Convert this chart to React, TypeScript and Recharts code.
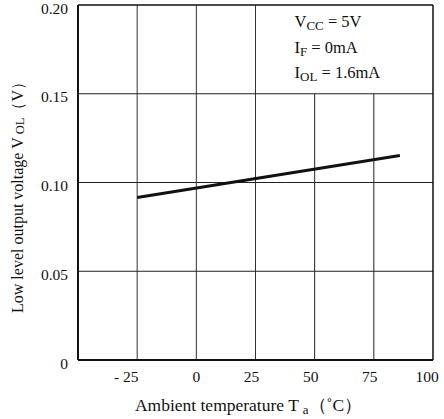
import React from "react"
import { LineChart, Line, XAxis, YAxis, ReferenceLine, ReferenceArea } from "recharts"

// readings from the plot
const temps = [-25, 86]
const vol = [0.0915, 0.1152]

const xTicks = [-25, 0, 25, 50, 75, 100]
const yTicks = [0, 0.05, 0.1, 0.15, 0.2]
const fullVGrid = [-25, 0, 25]
const partVGrid = [50, 75]
const hGrid = [0.05, 0.1, 0.15]

const conditions = [
  { main: "V", sub: "CC", rest: " = 5V" },
  { main: "I", sub: "F", rest: " = 0mA" },
  { main: "I", sub: "OL", rest: " = 1.6mA" },
]

const data = temps.map((t, i) => ({ t, v: vol[i] }))

const FONT = "'Liberation Serif', 'Times New Roman', serif"
const INK = "#111"

function XTick({ x, y, payload }: any) {
  const v = payload.value
  const dx = v < 0 ? -11 : v === 0 ? 0 : v === 100 ? -6 : -4
  return (
    <text x={x + dx} y={y} dy="0.71em" textAnchor="middle" fontSize={15.5} fill={INK} fontFamily={FONT}>
      {v < 0 ? `- ${Math.abs(v)}` : v}
    </text>
  )
}

function YTick({ x, y, payload }: any) {
  const v = payload.value
  return (
    <text x={x} y={y + 3} dy="0.355em" textAnchor="end" fontSize={15.5} fill={INK} fontFamily={FONT}>
      {v === 0 ? "0" : v.toFixed(2)}
    </text>
  )
}

function XTitle({ viewBox }: any) {
  const cx = viewBox.x + viewBox.width / 2 - 7
  return (
    <text x={cx} y={viewBox.y + 51} textAnchor="middle" fontSize={17.5} fill={INK} fontFamily={FONT}>
      Ambient temperature T
      <tspan fontSize={13} dx={4} dy={3}>a</tspan>
      <tspan dy={-3}>（˚C）</tspan>
    </text>
  )
}

function YTitle({ viewBox }: any) {
  const cx = viewBox.x + 17
  const cy = viewBox.y + viewBox.height / 2 + 11
  return (
    <text
      x={cx}
      y={cy}
      transform={`rotate(-90 ${cx} ${cy})`}
      textAnchor="middle"
      dominantBaseline="central"
      fontSize={16}
      fill={INK}
      fontFamily={FONT}
    >
      Low level output voltage V
      <tspan fontSize={12.5} dx={3} dy={3}>OL</tspan>
      <tspan dy={-3}>（V）</tspan>
    </text>
  )
}

function Conditions({ viewBox }: any) {
  const x0 = viewBox.x + 39
  const y0 = viewBox.y + 22
  return (
    <g>
      {conditions.map((c, i) => (
        <text key={i} x={x0} y={y0 + i * 25.5} fontSize={16.5} fill={INK} fontFamily={FONT}>
          {c.main}
          <tspan fontSize={13} dy={3}>{c.sub}</tspan>
          <tspan dy={-3}>{c.rest}</tspan>
        </text>
      ))}
    </g>
  )
}

export default function App() {
  return (
    <div style={{ position: "absolute", left: 0, top: 0, background: "#fff" }}>
      <LineChart width={444} height={419} data={data} margin={{ top: 5, right: 11, bottom: 0, left: 0 }}>
        <XAxis
          dataKey="t"
          type="number"
          domain={[-50, 100]}
          ticks={xTicks}
          tick={<XTick />}
          tickLine={false}
          tickSize={0}
          tickMargin={11}
          height={59}
          axisLine={{ stroke: INK, strokeWidth: 2 }}
          interval={0}
          allowDataOverflow
          label={{ content: <XTitle /> }}
        />
        <YAxis
          type="number"
          domain={[0, 0.2]}
          ticks={yTicks}
          tick={<YTick />}
          tickLine={false}
          tickSize={0}
          tickMargin={10}
          width={78}
          axisLine={{ stroke: INK, strokeWidth: 2 }}
          interval={0}
          label={{ content: <YTitle /> }}
        />
        {fullVGrid.map((g) => (
          <ReferenceLine key={`v${g}`} x={g} stroke="#333" strokeWidth={1} />
        ))}
        {partVGrid.map((g) => (
          <ReferenceLine
            key={`p${g}`}
            segment={[
              { x: g, y: 0 },
              { x: g, y: 0.15 },
            ]}
            stroke="#222"
            strokeWidth={1}
          />
        ))}
        {hGrid.map((g) => (
          <ReferenceLine key={`h${g}`} y={g} stroke="#222" strokeWidth={1} />
        ))}
        <ReferenceLine y={0.2} stroke={INK} strokeWidth={1.5} />
        <ReferenceLine x={100} stroke={INK} strokeWidth={1.5} />
        <ReferenceArea x1={25} x2={100} y1={0.15} y2={0.2} fill="none" stroke="none" label={{ content: <Conditions /> }} />
        <Line
          type="linear"
          dataKey="v"
          stroke={INK}
          strokeWidth={3}
          dot={false}
          isAnimationActive={false}
        />
      </LineChart>
    </div>
  )
}
